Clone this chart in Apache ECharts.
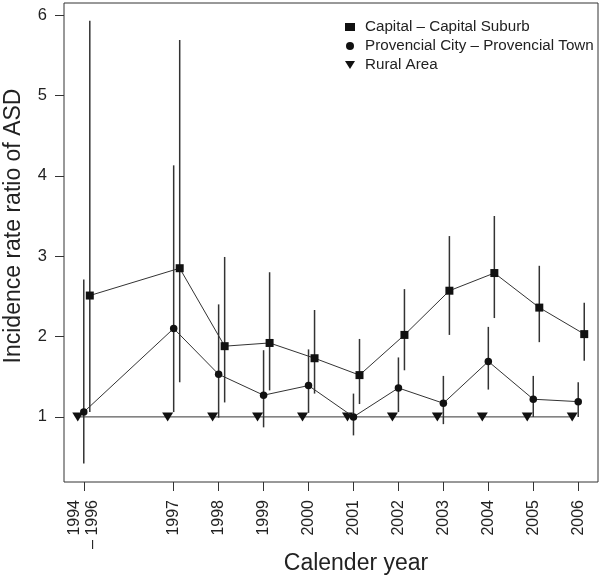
<!DOCTYPE html>
<html>
<head>
<meta charset="utf-8">
<script src="https://cdn.jsdelivr.net/npm/echarts@6/dist/echarts.min.js"></script>
<style>
html,body{margin:0;padding:0;background:#fff;}
#chart{width:601px;height:582px;}
</style>
</head>
<body>
<div id="chart"></div>
<script>
// ---- data ----
var years = [1995, 1997, 1998, 1999, 2000, 2001, 2002, 2003, 2004, 2005, 2006];
var yearLabels = ['1994\n– 1996', '1997', '1998', '1999', '2000', '2001', '2002', '2003', '2004', '2005', '2006'];
var yTicks = [1, 2, 3, 4, 5, 6];
var seriesNames = ['Capital – Capital Suburb', 'Provencial City – Provencial Town', 'Rural Area'];

var capital     = [2.51, 2.85, 1.88, 1.92, 1.73, 1.52, 2.02, 2.57, 2.79, 2.36, 2.03];
var capitalLow  = [1.06, 1.43, 1.18, 1.33, 1.29, 1.16, 1.58, 2.02, 2.23, 1.93, 1.70];
var capitalHigh = [5.93, 5.69, 2.99, 2.80, 2.33, 1.97, 2.59, 3.25, 3.50, 2.88, 2.42];

var prov     = [1.06, 2.10, 1.53, 1.27, 1.39, 1.00, 1.36, 1.17, 1.69, 1.22, 1.19];
var provLow  = [0.42, 1.06, 0.99, 0.87, 1.05, 0.77, 1.06, 0.91, 1.34, 1.00, 1.00];
var provHigh = [2.71, 4.13, 2.40, 1.83, 1.84, 1.29, 1.74, 1.51, 2.12, 1.51, 1.43];

var rural = [1, 1, 1, 1, 1, 1, 1, 1, 1, 1, 1];

// horizontal dodge of the three groups (in years)
var dodge = { capital: 0.134, prov: 0, rural: -0.134 };

// ---- build ----
var FONT = 'Liberation Sans, Arial, Helvetica, sans-serif';
var INK = '#222';

function pts(vals, off) {
  return years.map(function (y, i) { return [y + off, vals[i]]; });
}
function bars(lo, hi, off) {
  return years.map(function (y, i) { return [y + off, lo[i], hi[i]]; });
}
function errRender(params, api) {
  var a = api.coord([api.value(0), api.value(1)]);
  var b = api.coord([api.value(0), api.value(2)]);
  return {
    type: 'line',
    shape: { x1: a[0], y1: a[1], x2: b[0], y2: b[1] },
    style: { stroke: '#333', lineWidth: 1.5 }
  };
}
var triDown = 'path://M0,0L10,0L5,8Z';

var labelMap = {};
years.forEach(function (y, i) { labelMap[y] = yearLabels[i]; });

var chart = echarts.init(document.getElementById('chart'), null, { renderer: 'canvas' });
chart.setOption({
  animation: false,
  backgroundColor: '#fff',
  textStyle: { fontFamily: FONT },
  grid: {
    left: 64, right: 3, top: 3, bottom: 100,
    show: true, borderColor: '#333', borderWidth: 1, backgroundColor: 'transparent'
  },
  legend: {
    orient: 'vertical',
    left: 340, top: 14,
    itemWidth: 10, itemHeight: 8, itemGap: 3,
    textStyle: { fontFamily: FONT, fontSize: 15.2, color: INK, lineHeight: 16, padding: [0, 0, 0, 5] },
    data: [
      { name: seriesNames[0], icon: 'rect' },
      { name: seriesNames[1], icon: 'circle' },
      { name: seriesNames[2], icon: triDown }
    ]
  },
  xAxis: {
    type: 'value',
    min: 1994.56, max: 2006.44,
    axisLine: { show: false },
    splitLine: { show: false },
    axisTick: { show: true, length: 9, customValues: years, lineStyle: { color: '#333', width: 1 } },
    axisLabel: {
      customValues: years,
      rotate: 90,
      margin: 18,
      fontSize: 16, lineHeight: 18,
      fontFamily: FONT, color: INK,
      formatter: function (v) { return labelMap[v] || ''; }
    }
  },
  yAxis: {
    type: 'value',
    min: 0.19, max: 6.15,
    axisLine: { show: false },
    splitLine: { show: false },
    axisTick: { show: true, length: 9, customValues: yTicks, lineStyle: { color: '#333', width: 1 } },
    axisLabel: {
      customValues: yTicks,
      margin: 17,
      fontSize: 16.5, fontFamily: FONT, color: INK
    }
  },
  graphic: [
    {
      type: 'text', x: 356, y: 564, silent: true,
      style: { text: 'Calender year', font: '23px ' + FONT, fill: INK, align: 'center', verticalAlign: 'middle' }
    },
    {
      type: 'text', x: 14, y: 226, rotation: Math.PI / 2, silent: true,
      style: { text: 'Incidence rate ratio of ASD', font: '23px ' + FONT, fill: INK, align: 'center', verticalAlign: 'middle' }
    }
  ],
  series: [
    {
      name: 'capErr', type: 'custom', renderItem: errRender,
      encode: { x: 0, y: [1, 2] }, data: bars(capitalLow, capitalHigh, dodge.capital), z: 1
    },
    {
      name: 'provErr', type: 'custom', renderItem: errRender,
      encode: { x: 0, y: [1, 2] }, data: bars(provLow, provHigh, dodge.prov), z: 1
    },
    {
      name: seriesNames[2], type: 'line', data: pts(rural, dodge.rural),
      symbol: triDown, symbolSize: [11, 9], showSymbol: true,
      lineStyle: { color: '#333', width: 1 }, itemStyle: { color: '#111' }, z: 2
    },
    {
      name: seriesNames[0], type: 'line', data: pts(capital, dodge.capital),
      symbol: 'rect', symbolSize: 8, showSymbol: true,
      lineStyle: { color: '#333', width: 1 }, itemStyle: { color: '#111' }, z: 3
    },
    {
      name: seriesNames[1], type: 'line', data: pts(prov, dodge.prov),
      symbol: 'circle', symbolSize: 7.5, showSymbol: true,
      lineStyle: { color: '#333', width: 1 }, itemStyle: { color: '#111' }, z: 3
    }
  ]
});
</script>
</body>
</html>
